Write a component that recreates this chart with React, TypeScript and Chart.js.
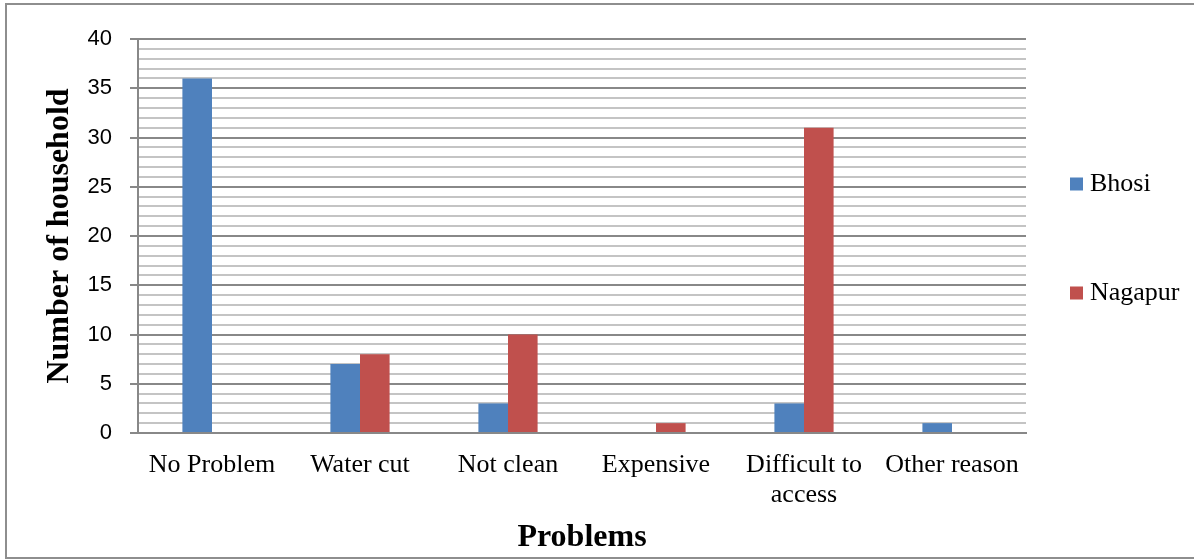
import React, { useEffect, useRef } from 'react';
import { Chart, registerables } from 'chart.js';

Chart.register(...registerables);

// ---- data ----
const categories: (string | string[])[] = [
  'No Problem',
  'Water cut',
  'Not clean',
  'Expensive',
  ['Difficult to', 'access'],
  'Other reason',
];
const seriesNames = ['Bhosi', 'Nagapur'];
const bhosiValues = [36, 7, 3, 0, 3, 1];
const nagapurValues = [0, 8, 10, 1, 31, 0];
const yMajorTicks = [0, 5, 10, 15, 20, 25, 30, 35, 40];
const yTitle = 'Number of household';
const xTitle = 'Problems';

// ---- styles ----
const BLUE = '#4F81BD';
const RED = '#C0504D';
const MAJOR = '#888888';
const MINOR = '#C4C4C4';
const SERIF = '"Liberation Serif", "Times New Roman", serif';
const SANS = '"Liberation Sans", Arial, sans-serif';

const sideLegend = {
  id: 'sideLegend',
  afterDraw(chart: any) {
    const { ctx, chartArea } = chart;
    const x = chartArea.right + 44;
    const cy = (chartArea.top + chartArea.bottom) / 2;
    const gap = 109;
    chart.data.datasets.forEach((ds: any, i: number) => {
      const y = cy - 52 + i * gap;
      ctx.save();
      ctx.fillStyle = ds.backgroundColor;
      ctx.fillRect(x, y - 6.5, 13, 13);
      ctx.fillStyle = '#000';
      ctx.font = '26px ' + SERIF;
      ctx.textBaseline = 'middle';
      ctx.textAlign = 'left';
      ctx.fillText(ds.label, x + 20, y);
      ctx.restore();
    });
  },
};

export default function App() {
  const ref = useRef<HTMLCanvasElement>(null);

  useEffect(() => {
    if (!ref.current) return;
    const chart = new Chart(ref.current, {
      type: 'bar',
      data: {
        labels: categories as any,
        datasets: [
          {
            label: seriesNames[0],
            data: bhosiValues,
            backgroundColor: BLUE,
            categoryPercentage: 0.4,
            barPercentage: 1,
          },
          {
            label: seriesNames[1],
            data: nagapurValues,
            backgroundColor: RED,
            categoryPercentage: 0.4,
            barPercentage: 1,
          },
        ],
      },
      options: {
        responsive: false,
        maintainAspectRatio: false,
        animation: false,
        layout: { padding: { top: 39, right: 168, left: 0, bottom: 0 } },
        plugins: {
          legend: { display: false },
          tooltip: { enabled: false },
          title: { display: false },
        },
        scales: {
          x: {
            grid: { display: false, drawTicks: false },
            border: { display: true, color: MAJOR, width: 2 },
            ticks: {
              color: '#000',
              font: { family: SERIF, size: 26, lineHeight: 1.15 },
              padding: 17,
              maxRotation: 0,
              minRotation: 0,
              autoSkip: false,
            },
            title: {
              display: true,
              text: xTitle,
              color: '#000',
              font: { family: SERIF, size: 32, weight: 'bold', lineHeight: 1.2 },
              padding: { top: 0, bottom: 2 },
            },
            afterFit: (scale: any) => {
              scale.height = 126;
            },
          },
          y: {
            min: 0,
            max: 40,
            ticks: {
              stepSize: 1,
              autoSkip: false,
              color: '#000',
              font: { family: SANS, size: 22 },
              padding: 18,
              callback: (v: any) => (yMajorTicks.includes(Number(v)) ? String(v) : ''),
            },
            grid: {
              color: (c: any) => (c.tick && c.tick.value % 5 === 0 ? MAJOR : MINOR),
              tickColor: (c: any) => (c.tick && c.tick.value % 5 === 0 ? MAJOR : 'rgba(0,0,0,0)'),
              lineWidth: 2,
              tickWidth: 2,
              tickLength: 8,
              drawTicks: true,
            },
            border: { display: true, color: MAJOR, width: 2 },
            title: {
              display: true,
              text: yTitle,
              color: '#000',
              font: { family: SERIF, size: 32, weight: 'bold', lineHeight: 1.2 },
              padding: { top: 41, bottom: 0 },
            },
            afterFit: (scale: any) => {
              scale.width = 138;
            },
          },
        },
      },
      plugins: [sideLegend],
    });
    return () => chart.destroy();
  }, []);

  return (
    <div
      style={{
        position: 'absolute',
        left: 0,
        top: 0,
        width: 1194,
        height: 559,
        overflow: 'hidden',
        background: '#fff',
      }}
    >
      <div
        style={{
          position: 'absolute',
          left: 5,
          top: 3,
          width: 1220,
          height: 556,
          border: '2px solid #8E8E8E',
          boxSizing: 'border-box',
        }}
      />
      <canvas
        ref={ref}
        width={1194}
        height={559}
        style={{ position: 'absolute', left: 0, top: 0, width: 1194, height: 559, display: 'block' }}
      />
    </div>
  );
}
